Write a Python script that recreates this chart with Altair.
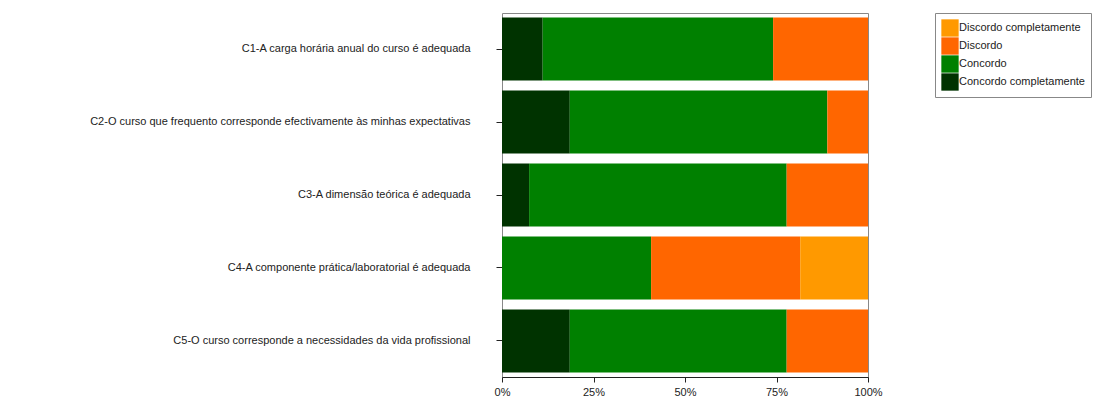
import altair as alt
import pandas as pd

questions = [
    "C1-A carga horária anual do curso é adequada",
    "C2-O curso que frequento corresponde efectivamente às minhas expectativas",
    "C3-A dimensão teórica é adequada",
    "C4-A componente prática/laboratorial é adequada",
    "C5-O curso corresponde a necessidades da vida profissional",
]
categories = ["Discordo completamente", "Discordo", "Concordo", "Concordo completamente"]
colors = ["#ff9900", "#ff6600", "#008000", "#003300"]

concordo_completamente = [3, 5, 2, 0, 5]
concordo = [17, 19, 19, 11, 16]
discordo = [7, 3, 6, 11, 6]
discordo_completamente = [0, 0, 0, 5, 0]

rows = []
series = {
    "Concordo completamente": concordo_completamente,
    "Concordo": concordo,
    "Discordo": discordo,
    "Discordo completamente": discordo_completamente,
}
stack_order = {"Concordo completamente": 0, "Concordo": 1, "Discordo": 2, "Discordo completamente": 3}
for cat, vals in series.items():
    for q, v in zip(questions, vals):
        rows.append({"q": q, "cat": cat, "v": v, "o": stack_order[cat]})
df = pd.DataFrame(rows)

chart = alt.Chart(df).mark_bar(strokeWidth=0).encode(
    y=alt.Y("q:N", sort=questions, title=None,
            scale=alt.Scale(paddingInner=0.137, paddingOuter=0.062),
            axis=alt.Axis(domain=False, ticks=True, tickSize=6, tickColor="#222",
                          labelPadding=26, labelFontSize=11, labelColor="#222",
                          labelLimit=500, labelFont="Liberation Sans")),
    x=alt.X("v:Q", stack="normalize", title=None,
            scale=alt.Scale(domain=[0, 1], nice=False),
            axis=alt.Axis(values=[0, 0.25, 0.5, 0.75, 1], format="%", grid=False,
                          domainColor="#222", tickColor="#222", tickSize=5,
                          labelFontSize=11, labelColor="#222", labelFont="Liberation Sans",
                          labelPadding=4, labelFlush=False)),
    color=alt.Color("cat:N", sort=categories,
                    scale=alt.Scale(domain=categories, range=colors),
                    legend=alt.Legend(title=None, orient="none", legendX=433, legendY=0,
                                      symbolType="square", symbolSize=300, symbolStrokeWidth=0,
                                      symbolOpacity=1, rowPadding=0, labelOffset=0,
                                      labelFontSize=11, labelColor="#222", labelFont="Liberation Sans",
                                      strokeColor="#888", padding=6, fillColor="white")),
    order=alt.Order("o:Q"),
).properties(
    width=366, height=364,
    padding={"left": 494, "top": 5, "right": 230, "bottom": 20},
    autosize=alt.AutoSizeParams(type="none"),
).configure_view(stroke="#888", strokeWidth=1)

chart.save("out.html", embed_options={"renderer": "svg", "actions": False})
